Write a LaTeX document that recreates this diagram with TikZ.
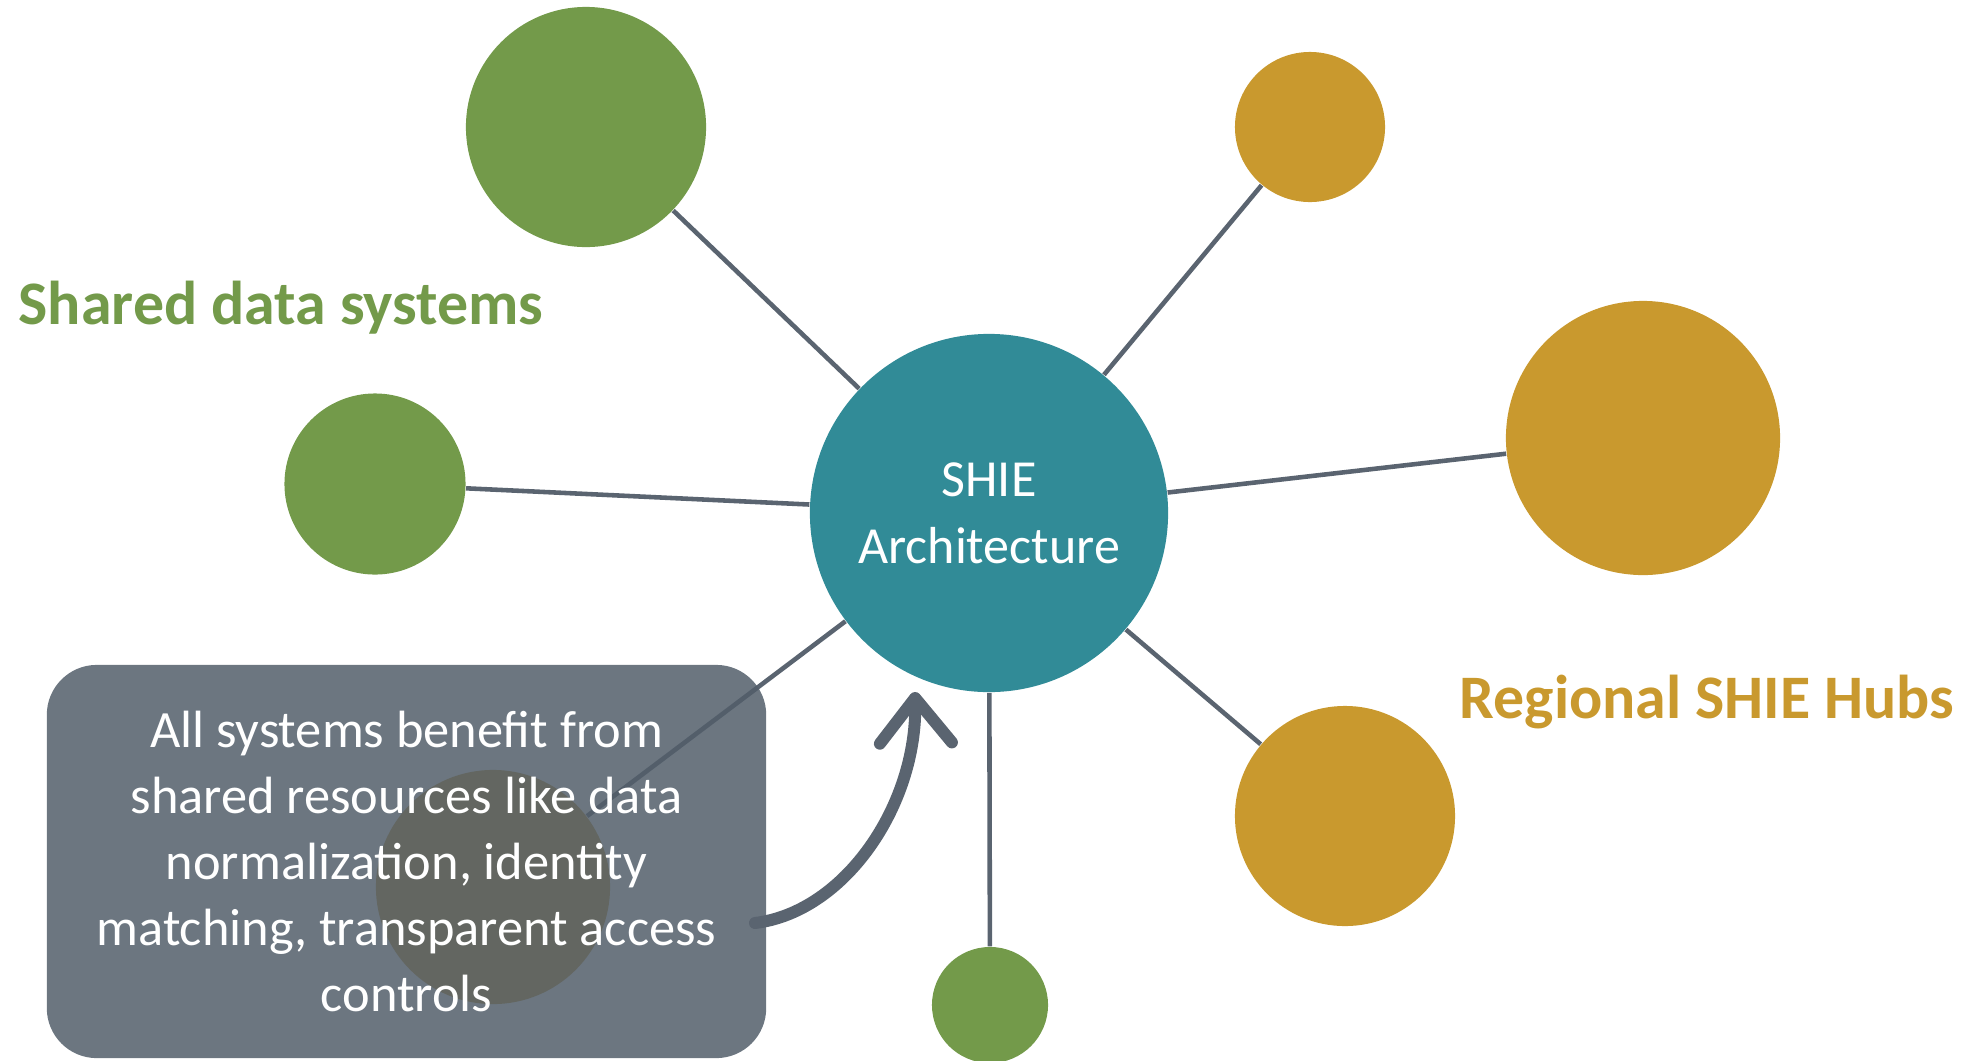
\documentclass[tikz,border=0pt]{standalone}
\usepackage{fontspec}
\setmainfont{Carlito}
\usetikzlibrary{arrows.meta}

\definecolor{shieteal}{RGB}{49,139,151}
\definecolor{sysgreen}{RGB}{115,154,74}
\definecolor{hubgold}{RGB}{201,153,46}
\definecolor{linkgrey}{RGB}{90,100,112}
\definecolor{notegrey}{RGB}{82,94,106}

\begin{document}
\begin{tikzpicture}[x=0.01cm, y=-0.01cm,
  dot/.style={circle, inner sep=0pt, draw=none},
  sysdot/.style={dot, fill=sysgreen},
  hubdot/.style={dot, fill=hubgold},
  link/.style={linkgrey, line width=1.3pt},
  grouplabel/.style={anchor=base west, inner sep=0pt, font=\fontsize{17.6}{20}\selectfont\bfseries},
  bigarrow/.style={linkgrey, line width=0.12cm, line cap=round,
    -{Straight Barb[length=0.45cm, width=0.72cm, line cap=round, line join=round]}}]
\useasboundingbox (0,0) rectangle (1972,1060);

% Centre
\node[dot, fill=shieteal, minimum size=3.58cm, text=white, align=center,
  font=\fontsize{14.8}{19}\selectfont] (shie) at (989,513) {SHIE\\Architecture};

% Shared data systems
\node[sysdot, minimum size=2.40cm] (sys1) at (586,127) {};
\node[sysdot, minimum size=1.81cm] (sys2) at (375,484) {};
\node[sysdot, minimum size=1.16cm] (sys3) at (990,1005) {};

% Regional hubs
\node[hubdot, minimum size=1.50cm] (hub1) at (1310,127) {};
\node[hubdot, minimum size=2.74cm] (hub2) at (1643,438) {};
\node[hubdot, minimum size=2.20cm] (hub3) at (1345,816) {};
\node[hubdot, minimum size=2.34cm] (hub4) at (493,887) {};

% Links
\draw[link] (shie) -- (sys1);
\draw[link] (shie) -- (sys2);
\draw[link] (shie) -- (sys3);
\draw[link] (shie) -- (hub1);
\draw[link] (shie) -- (hub2);
\draw[link] (shie) -- (hub3);
\draw[link] (shie) -- (hub4);

% Group labels
\node[grouplabel, text=sysgreen] (syslabel) at (18,324) {Shared data systems};
\node[grouplabel, text=hubgold] (hublabel) at (1459,718) {Regional SHIE Hubs};

% Note box
\node[fill=notegrey, fill opacity=0.85, text opacity=1, text=white,
  rounded corners=0.5cm, minimum width=7.19cm, minimum height=3.93cm,
  align=center, font=\fontsize{14.9}{18.8}\selectfont] (note) at (406.5,861.5)
  {All systems benefit from\\shared resources like data\\normalization, identity\\matching, transparent access\\controls};

% Arrow
\coordinate (arrowtail) at (755,923);
\coordinate (arrowtip) at (915,692);
\draw[bigarrow] (arrowtail) .. controls (845,912) and (917,805) .. (arrowtip);
\end{tikzpicture}
\end{document}
